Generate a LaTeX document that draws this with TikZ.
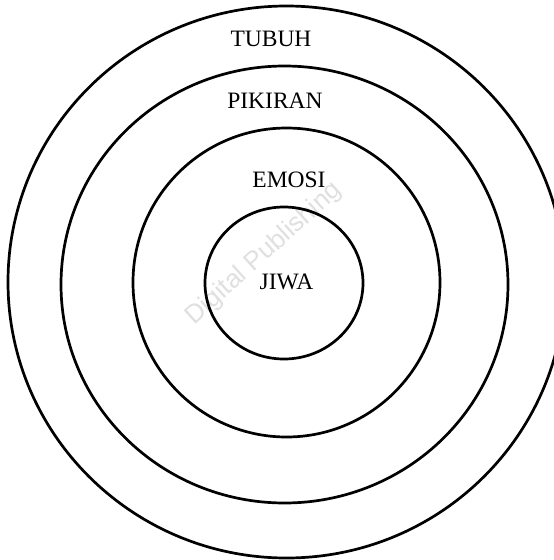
\documentclass[tikz,border=0pt]{standalone}
\usepackage{fontspec}
\setmainfont{Liberation Serif}
\setsansfont{Liberation Sans}
\tikzset{
  ring/.style={line width=2.7pt, draw=black},
  lbl/.style={font=\fontsize{23.5}{27}\selectfont, inner sep=0pt, anchor=center},
  wmark/.style={font=\sffamily\fontsize{26}{30}\selectfont, text=black!12, rotate=42, inner sep=0pt}
}
\begin{document}
\begin{tikzpicture}[x=1pt,y=-1pt]
\useasboundingbox (0,0) rectangle (554,560);
\clip (0,0) rectangle (554,560);
\fill[white] (0,0) rectangle (554,560);
% watermark
\node[wmark] (wm) at (264,254) {Digital Publishing};
% rings
\draw[ring] (286.5,282) ellipse [x radius=278.5, y radius=276];
\draw[ring] (284.5,284.5) ellipse [x radius=223.5, y radius=218.5];
\draw[ring] (286.5,282.5) ellipse [x radius=153.5, y radius=154.5];
\draw[ring] (284,283) ellipse [x radius=79, y radius=76];
% labels
\node[lbl] (tubuh) at (271,39) {TUBUH};
\node[lbl] (pikiran) at (275,101) {PIKIRAN};
\node[lbl] (emosi) at (289,180) {EMOSI};
\node[lbl] (jiwa) at (286.5,282) {JIWA};
\end{tikzpicture}
\end{document}
